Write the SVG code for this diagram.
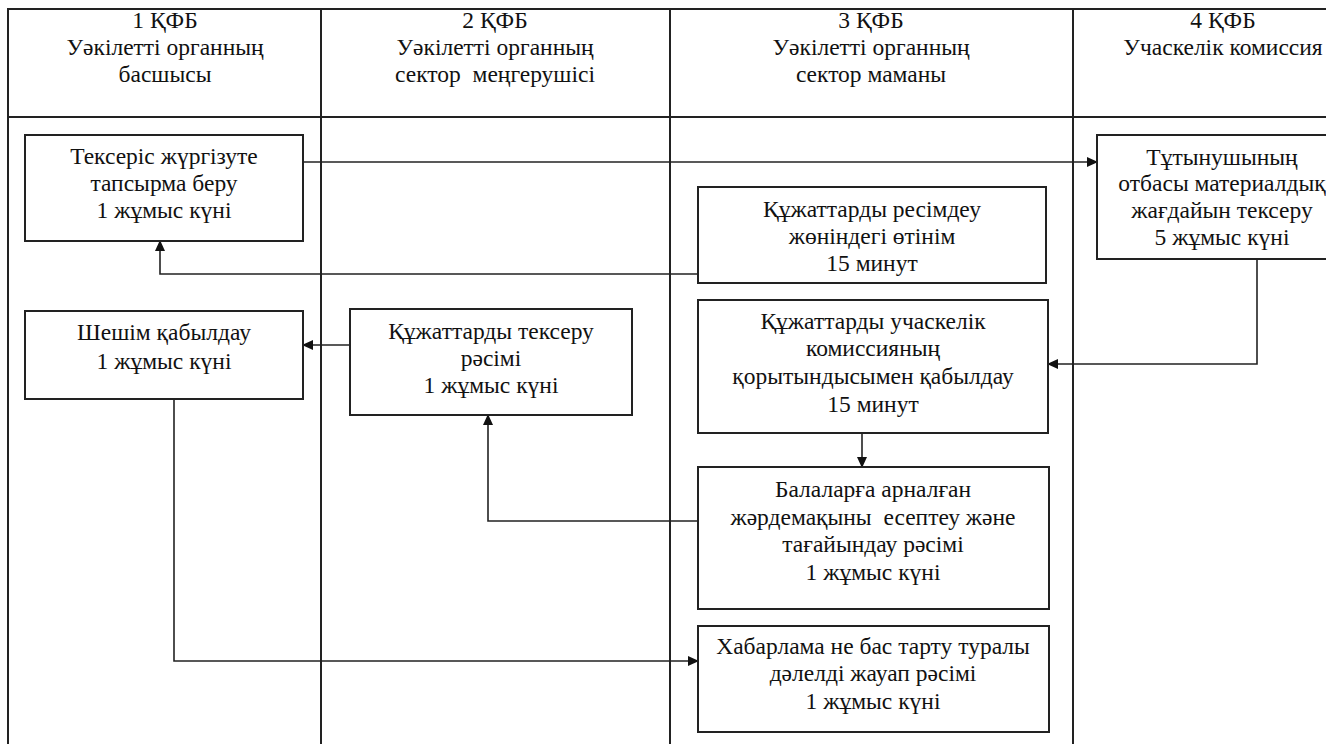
<svg xmlns="http://www.w3.org/2000/svg" width="1342" height="744" viewBox="0 0 1342 744">
<style>
.frame{fill:none;stroke:#222;stroke-width:2}
.box{fill:#fff;stroke:#222;stroke-width:2}
.conn{fill:none;stroke:#222;stroke-width:1.6}
text{font-family:"Liberation Serif","Times New Roman",serif;font-size:23.5px;fill:#111;text-anchor:middle;white-space:pre}
</style>
<defs>
<marker id="arr" markerUnits="userSpaceOnUse" markerWidth="11" markerHeight="10" refX="10" refY="5" orient="auto">
<path d="M0,0 L11,5 L0,10 z" fill="#111"/>
</marker>
</defs>
<rect width="1342" height="744" fill="#fff"/>
<g id="lanes">
<path class="frame" d="M8,744 V9 H1342 M8,117 H1342 M321,9 V744 M670,9 V744 M1073,9 V744"/>
<g id="lane1"><text x="165" y="28">1 ҚФБ</text><text x="165" y="55">Уәкілетті органның</text><text x="165" y="82">басшысы</text></g>
<g id="lane2"><text x="495" y="28">2 ҚФБ</text><text x="495" y="55">Уәкілетті органның</text><text x="495" y="82">сектор  меңгерушісі</text></g>
<g id="lane3"><text x="871" y="28">3 ҚФБ</text><text x="871" y="55">Уәкілетті органның</text><text x="871" y="82">сектор маманы</text></g>
<g id="lane4"><text x="1223" y="28">4 ҚФБ</text><text x="1223" y="55">Учаскелік комиссия</text></g>
</g>
<g id="connectors">
<path class="conn" d="M303,162 H1097" marker-end="url(#arr)"/>
<path class="conn" d="M698,274 H160 V241" marker-end="url(#arr)"/>
<path class="conn" d="M350,345 H303" marker-end="url(#arr)"/>
<path class="conn" d="M1257,259 V364 H1048" marker-end="url(#arr)"/>
<path class="conn" d="M862,433 V467" marker-end="url(#arr)"/>
<path class="conn" d="M698,521 H488 V415" marker-end="url(#arr)"/>
<path class="conn" d="M174,399 V661 H698" marker-end="url(#arr)"/>
</g>
<g id="nodeA"><rect class="box" x="25" y="135" width="278" height="106"/>
<text x="164" y="164">Тексеріс жүргізуте</text><text x="164" y="191">тапсырма беру</text><text x="164" y="218">1 жұмыс күні</text></g>
<g id="nodeB"><rect class="box" x="25" y="311" width="278" height="88"/>
<text x="164" y="340">Шешім қабылдау</text><text x="164" y="369">1 жұмыс күні</text></g>
<g id="nodeC"><rect class="box" x="350" y="309" width="282" height="106"/>
<text x="491" y="339">Құжаттарды тексеру</text><text x="491" y="366">рәсімі</text><text x="491" y="393">1 жұмыс күні</text></g>
<g id="nodeD"><rect class="box" x="698" y="187" width="348" height="96"/>
<text x="872" y="217">Құжаттарды ресімдеу</text><text x="872" y="244">жөніндегі өтінім</text><text x="872" y="271">15 минут</text></g>
<g id="nodeE"><rect class="box" x="698" y="300" width="350" height="133"/>
<text x="873" y="329">Құжаттарды учаскелік</text><text x="873" y="356">комиссияның</text><text x="873" y="384">қорытындысымен қабылдау</text><text x="873" y="412">15 минут</text></g>
<g id="nodeF"><rect class="box" x="1097" y="135" width="260" height="124"/>
<text x="1222" y="165">Тұтынушының</text><text x="1222" y="191">отбасы материалдық</text><text x="1222" y="218">жағдайын тексеру</text><text x="1222" y="245">5 жұмыс күні</text></g>
<g id="nodeG"><rect class="box" x="698" y="467" width="351" height="142"/>
<text x="873" y="497">Балаларға арналған</text><text x="873" y="525">жәрдемақыны  есептеу және</text><text x="873" y="552">тағайындау рәсімі</text><text x="873" y="580">1 жұмыс күні</text></g>
<g id="nodeH"><rect class="box" x="698" y="626" width="351" height="106"/>
<text x="873" y="654">Хабарлама не бас тарту туралы</text><text x="873" y="681">дәлелді жауап рәсімі</text><text x="873" y="709">1 жұмыс күні</text></g>
<rect x="1326" y="0" width="16" height="744" fill="#fff"/>
</svg>
